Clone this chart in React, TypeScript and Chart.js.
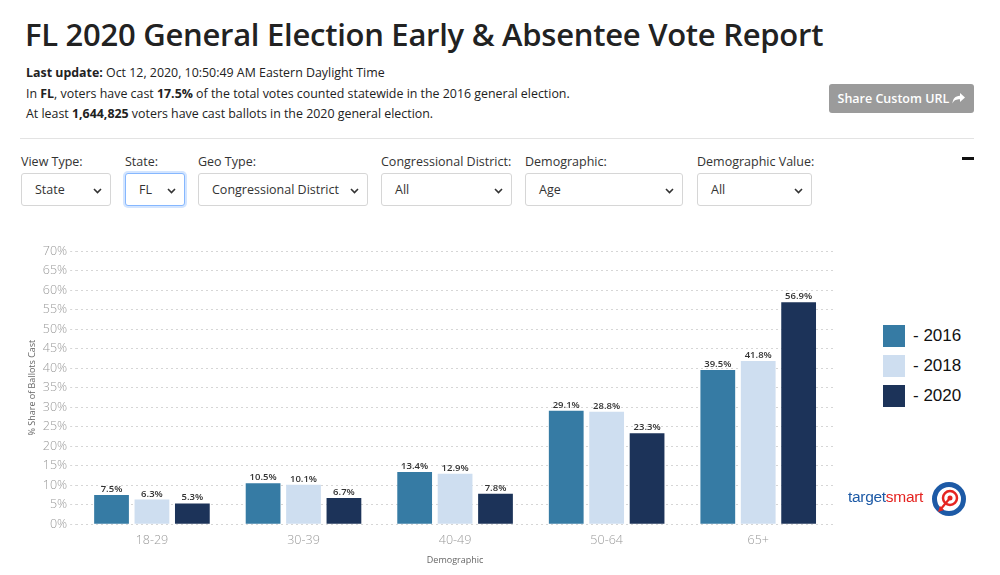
import React, { useEffect, useRef } from "react";
import { Chart, registerables } from "chart.js";

Chart.register(...registerables);

const categories = ["18-29", "30-39", "40-49", "50-64", "65+"];
const seriesNames = ["2016", "2018", "2020"];
const values2016 = [7.5, 10.5, 13.4, 29.1, 39.5];
const values2018 = [6.3, 10.1, 12.9, 28.8, 41.8];
const values2020 = [5.3, 6.7, 7.8, 23.3, 56.9];
const seriesColors = ["#367ba4", "#cedef0", "#1c3359"];
const yMax = 70;
const yStep = 5;

const FONT = "'Open Sans', 'Noto Sans', sans-serif";

const valueLabels = {
  id: "valueLabels",
  afterDatasetsDraw(chart: any) {
    const ctx = chart.ctx;
    ctx.save();
    ctx.font = "600 9.5px " + FONT;
    ctx.fillStyle = "#333";
    ctx.textAlign = "center";
    ctx.textBaseline = "bottom";
    chart.data.datasets.forEach((ds: any, i: number) => {
      const meta = chart.getDatasetMeta(i);
      meta.data.forEach((bar: any, j: number) => {
        ctx.fillText(ds.data[j].toFixed(1) + "%", bar.x, bar.y - 1);
      });
    });
    ctx.restore();
  },
};

function Chevron({ x, y }: { x: number; y: number }) {
  return (
    <svg style={{ position: "absolute", left: x, top: y }} width="9" height="6" viewBox="0 0 9 6">
      <path d="M1 1 L4.5 4.5 L8 1" stroke="#333" strokeWidth="1.6" fill="none" />
    </svg>
  );
}

function Select({ x, w, text, focus }: { x: number; w: number; text: string; focus?: boolean }) {
  return (
    <div
      style={{
        position: "absolute",
        left: x,
        top: 173,
        width: w,
        height: 33,
        boxSizing: "border-box",
        border: focus ? "1px solid #86b7fe" : "1px solid #d6d6d6",
        boxShadow: focus ? "0 0 0 2px rgba(13,110,253,0.18)" : "none",
        borderRadius: 3,
        background: "#fff",
      }}
    >
      <span
        style={{
          position: "absolute",
          left: 13,
          top: 7,
          fontSize: 12.5,
          fontWeight: 500,
          color: "#333",
          whiteSpace: "nowrap",
        }}
      >
        {text}
      </span>
      <Chevron x={w - 19} y={14} />
    </div>
  );
}

function Label({ x, text }: { x: number; text: string }) {
  return (
    <div style={{ position: "absolute", left: x, top: 153, fontSize: 12.5, color: "#333", whiteSpace: "nowrap" }}>
      {text}
    </div>
  );
}

export default function App() {
  const canvasRef = useRef<HTMLCanvasElement>(null);

  useEffect(() => {
    const datasetsValues = [values2016, values2018, values2020];
    const chart = new Chart(canvasRef.current!, {
      type: "bar",
      data: {
        labels: categories,
        datasets: seriesNames.map((name, i) => ({
          label: name,
          data: datasetsValues[i],
          backgroundColor: seriesColors[i],
          categoryPercentage: 0.8,
          barPercentage: 0.86,
        })),
      },
      options: {
        animation: false,
        responsive: false,
        maintainAspectRatio: false,
        layout: { padding: { top: 12, left: 7, right: 16, bottom: 13 } },
        plugins: {
          legend: { display: false },
          tooltip: { enabled: false },
        },
        scales: {
          x: {
            grid: { display: false },
            border: { display: false },
            ticks: { color: "#999", font: { family: FONT, size: 12.5, weight: 300 as any }, padding: 1 },
            title: {
              display: true,
              text: "Demographic",
              color: "#666",
              font: { family: FONT, size: 9 },
              padding: { top: 6, bottom: 0 },
            },
          },
          y: {
            min: 0,
            max: yMax,
            ticks: {
              stepSize: yStep,
              color: "#999",
              font: { family: FONT, size: 12.5, weight: 300 as any },
              padding: 3,
              callback: (v: any) => v + "%",
            },
            grid: { color: "#d6d6d6", tickLength: 6, tickBorderDash: [2, 3] as any },
            border: { display: false, dash: [2, 3] },
            title: {
              display: true,
              text: "% Share of Ballots Cast",
              color: "#666",
              font: { family: FONT, size: 9 },
              padding: { top: 0, bottom: 2 },
            },
          },
        },
      },
      plugins: [valueLabels],
    });
    return () => chart.destroy();
  }, []);

  return (
    <div
      style={{
        position: "absolute",
        left: 0,
        top: 0,
        width: 1000,
        height: 575,
        overflow: "hidden",
        background: "#fff",
        fontFamily: FONT,
        color: "#222",
      }}
    >
      <div style={{ position: "absolute", left: 25, top: 13, fontSize: 31, fontWeight: 600, color: "#222", whiteSpace: "nowrap", letterSpacing: -0.27 }}>
        FL 2020 General Election Early &amp; Absentee Vote Report
      </div>
      <div style={{ position: "absolute", left: 26, top: 63, fontSize: 12.4, lineHeight: "20.5px", color: "#222" }}>
        <div>
          <b>Last update:</b> Oct 12, 2020, 10:50:49 AM Eastern Daylight Time
        </div>
        <div>
          In <b>FL</b>, voters have cast <b>17.5%</b> of the total votes counted statewide in the 2016 general election.
        </div>
        <div>
          At least <b>1,644,825</b> voters have cast ballots in the 2020 general election.
        </div>
      </div>
      <div
        style={{
          position: "absolute",
          left: 829,
          top: 84,
          width: 145,
          height: 29,
          background: "#9b9b9b",
          borderRadius: 3,
          color: "#fff",
          fontSize: 12.5,
          fontWeight: 600,
          lineHeight: "29px",
          textAlign: "center",
          whiteSpace: "nowrap",
        }}
      >
        Share Custom URL{" "}
        <svg width="13" height="11" viewBox="0 0 13 11" style={{ verticalAlign: "-1px" }}>
          <path d="M8 0 L13 4.5 L8 9 L8 6.3 C4.5 6.3 2 7 0.5 10.5 C0.8 6 3 3 8 2.8 Z" fill="#fff" />
        </svg>
      </div>
      <div style={{ position: "absolute", left: 20, top: 138, width: 954, height: 1, background: "#e3e3e3" }} />

      <Label x={21} text="View Type:" />
      <Label x={125} text="State:" />
      <Label x={198} text="Geo Type:" />
      <Label x={381} text="Congressional District:" />
      <Label x={525} text="Demographic:" />
      <Label x={697} text="Demographic Value:" />

      <Select x={21} w={90} text="State" />
      <Select x={125} w={60} text="FL" focus />
      <Select x={198} w={170} text="Congressional District" />
      <Select x={381} w={131} text="All" />
      <Select x={525} w={158} text="Age" />
      <Select x={697} w={115} text="All" />

      <div style={{ position: "absolute", left: 962, top: 157, width: 12, height: 3, background: "#111" }} />

      <canvas
        ref={canvasRef}
        width={830}
        height={340}
        style={{ position: "absolute", left: 20, top: 239, width: 830, height: 340 }}
      />

      {seriesNames.map((name, i) => (
        <div key={name} style={{ position: "absolute", left: 883, top: 325 + i * 30, height: 22, whiteSpace: "nowrap" }}>
          <div style={{ position: "absolute", left: 0, top: 0, width: 22, height: 22, background: seriesColors[i] }} />
          <div style={{ position: "absolute", left: 30, top: -1, fontSize: 17, lineHeight: "24px", color: "#111", fontFamily: "'Liberation Sans', Arial, sans-serif" }}>
            - {name}
          </div>
        </div>
      ))}

      <div style={{ position: "absolute", left: 848, top: 487, fontSize: 15.5, lineHeight: "20px", whiteSpace: "nowrap", fontFamily: "'Liberation Sans', Arial, sans-serif", letterSpacing: -0.3 }}>
        <span style={{ color: "#1d5aa6" }}>target</span>
        <span style={{ color: "#e52421" }}>smart</span>
      </div>
      <svg style={{ position: "absolute", left: 931, top: 481 }} width="36" height="36" viewBox="0 0 36 36">
        <circle cx="18" cy="18" r="14.5" fill="none" stroke="#1d5aa6" strokeWidth="5" />
        <circle cx="19" cy="17" r="7" fill="none" stroke="#e52421" strokeWidth="2.5" />
        <circle cx="19" cy="17" r="2.5" fill="#e52421" />
        <path d="M19 17 L9 29" stroke="#e52421" strokeWidth="2.2" />
        <path d="M7 31 L9 25 L13 29 Z" fill="#e52421" />
      </svg>
    </div>
  );
}
